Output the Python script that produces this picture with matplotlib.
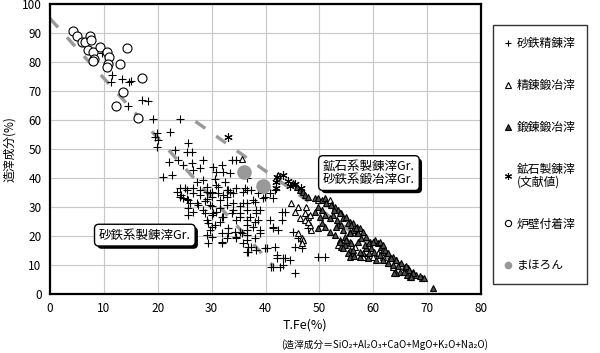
import matplotlib
matplotlib.use('Agg')
import matplotlib.pyplot as plt
import matplotlib.patheffects as pe
from matplotlib.lines import Line2D

plt.rcParams['font.family'] = ['Noto Sans CJK JP', 'DejaVu Sans']

# 砂鉄精錬滓 (+)
sand_pts = [
    (9.6, 83), (11.5, 75.5), (13.4, 74.2), (14.7, 73.2), (15.0, 73.4), (11.3, 73.2), (17.0, 66.9),
    (18.2, 66.5), (14.5, 64.8), (19.2, 60.3), (24.1, 60.3),
    (19.8, 55.4), (19.5, 54.3), (20.1, 53.1), (22.3, 55.9), (19.8, 50.8), (23.2, 49.7), (25.7, 51.9),
    (25.4, 49.1), (26.3, 49.1), (22.0, 45.6), (23.8, 46.2), (24.7, 44.5), (26.3, 45.1), (28.4, 46.2),
    (30.3, 43.9), (31.9, 44.5), (30.9, 42.2), (32.2, 42.2), (33.4, 41.6), (33.7, 46.2), (34.6, 46.2),
    (21.0, 40.5), (22.6, 41.0), (24.1, 36.4), (25.4, 35.9), (26.6, 36.4), (24.7, 33.0), (25.7, 32.4),
    (27.2, 38.7), (27.8, 35.9), (28.4, 39.3), (29.1, 37.0), (29.7, 34.7), (30.9, 37.6), (32.5, 38.7),
    (33.1, 35.9), (34.0, 34.7), (32.8, 33.6), (31.5, 32.4), (29.7, 30.7), (28.4, 29.0), (30.3, 27.8),
    (31.9, 26.7), (29.1, 25.5), (30.0, 23.2), (29.1, 20.3), (31.9, 18.0), (33.1, 20.9), (34.6, 19.8),
    (35.2, 21.5), (36.5, 18.6), (37.4, 16.3), (36.8, 14.6), (38.3, 15.2), (40.2, 15.8), (38.3, 27.8),
    (38.7, 25.5), (36.5, 35.9), (37.7, 32.4), (39.0, 29.0), (39.9, 33.6), (41.4, 33.0), (41.7, 35.9),
    (40.8, 25.5), (41.4, 23.2), (42.1, 13.5), (43.3, 12.3), (41.1, 9.4), (42.7, 9.4), (25.7, 27.2),
    (25.7, 29.5), (27.2, 31.3), (34.0, 29.0), (35.2, 27.8), (35.9, 31.3), (34.6, 25.5), (37.7, 23.2),
    (39.0, 20.9), (36.5, 23.8),
    (26.6, 42.7), (27.8, 43.3), (30.6, 39.8), (31.2, 37.0), (34.6, 36.4), (24.1, 33.5), (25.4, 32.9),
    (29.1, 32.9), (30.0, 35.2), (32.8, 35.8), (25.0, 36.4),
    (23.5, 35.3), (24.4, 34.2), (26.6, 34.8), (27.8, 34.2), (29.1, 35.3), (30.0, 33.6), (31.2, 34.8),
    (32.2, 34.2), (33.4, 35.3), (35.9, 35.3), (26.0, 31.3), (27.5, 30.7), (28.8, 31.9), (30.0, 30.2),
    (31.5, 29.6), (32.8, 30.7), (34.0, 31.3), (35.3, 30.2), (36.5, 31.3), (26.6, 28.4), (28.8, 27.9),
    (30.0, 27.3), (30.9, 28.4), (32.2, 26.7), (33.7, 27.9), (35.3, 26.7), (36.5, 25.6), (29.4, 24.4),
    (30.6, 23.8), (31.5, 25.0), (33.1, 22.7), (34.3, 21.5), (35.6, 21.0), (36.5, 22.1), (29.7, 22.1),
    (30.0, 19.8), (31.9, 21.0), (32.8, 19.2), (34.6, 19.2), (35.9, 17.5), (36.5, 14.6), (29.4, 17.5),
    (31.9, 17.5),
    (36.5, 39.9), (36.2, 36.4), (37.4, 35.9), (38.7, 34.7), (39.6, 33.0), (38.0, 31.8), (36.5, 29.0),
    (37.1, 26.7), (38.3, 29.0), (38.0, 25.0), (39.0, 22.1), (38.0, 19.2), (36.8, 16.3), (39.9, 15.7),
    (36.5, 20.3), (41.7, 16.3), (43.0, 28.4), (43.6, 28.4), (43.0, 25.5), (41.4, 22.6), (42.4, 22.1),
    (45.1, 21.5), (46.1, 19.2), (45.5, 16.3), (46.7, 15.7), (47.9, 22.6), (49.8, 12.9), (51.0, 12.9),
    (42.1, 12.3), (43.6, 12.3), (44.5, 11.7), (43.3, 10.0), (45.5, 7.2), (41.4, 9.4), (40.8, 34.7),
]

# 精錬鍛冶滓 (open triangle)
refine_pts = [
    (35.6, 46.4), (42.4, 41.0), (44.8, 31.3), (46.1, 30.1), (45.5, 28.4), (47.3, 27.8), (47.9, 26.7),
    (46.4, 26.1), (47.3, 25.5), (46.1, 20.9), (46.7, 19.2), (47.0, 18.6), (48.5, 22.1), (48.2, 23.8),
    (49.8, 32.4), (47.6, 30.1), (48.2, 27.2), (47.9, 25.0), (46.7, 17.5), (55.7, 18.0), (56.6, 16.3),
    (58.7, 12.9), (60.0, 12.9), (60.9, 14.0), (61.8, 12.9), (62.8, 10.6), (63.7, 9.4), (51.9, 32.4),
    (58.1, 12.9), (53.4, 16.9),
]

# 鍛錬鍛冶滓 (filled triangle)
forge_pts = [
    (45.1, 38.2), (45.8, 37.0), (46.4, 35.9), (47.0, 35.3), (47.3, 34.1), (47.9, 33.6), (49.2, 33.0),
    (49.8, 33.0), (50.4, 32.4), (51.0, 33.0), (51.3, 31.3), (52.3, 30.7), (52.9, 30.1), (53.5, 29.0),
    (54.1, 27.8), (54.4, 26.1), (55.0, 26.7), (55.7, 25.0), (56.3, 24.4), (56.9, 23.2), (57.5, 22.7),
    (58.1, 21.5), (56.9, 20.9), (55.7, 21.5), (54.4, 22.1), (53.5, 23.8), (53.2, 25.5), (52.6, 27.2),
    (51.9, 26.1), (51.0, 27.2), (50.4, 29.0), (49.8, 30.1), (49.2, 28.4), (50.1, 26.7), (50.4, 24.4),
    (49.8, 22.6), (51.0, 23.2), (51.9, 21.5), (52.9, 20.3), (53.8, 18.6), (54.7, 16.9), (54.1, 16.3),
    (55.7, 15.2), (56.3, 14.0), (57.5, 12.9), (58.1, 14.0), (58.7, 15.8), (59.4, 18.0), (60.3, 18.6),
    (60.9, 17.5), (61.5, 16.3), (61.8, 15.2), (62.5, 14.0), (63.1, 12.3), (63.7, 12.9), (64.3, 11.7),
    (65.2, 10.6), (65.9, 9.4), (66.5, 8.9), (67.4, 7.7), (68.0, 6.6), (69.0, 5.4), (64.9, 7.7),
    (64.3, 7.1), (66.2, 6.6), (66.8, 6.0), (71.1, 2.0),
    (52.2, 30.7), (52.8, 29.0), (53.8, 27.9), (55.3, 24.4), (55.9, 23.8), (56.2, 22.1), (56.8, 22.7),
    (57.1, 21.0), (55.6, 21.0), (54.7, 19.8), (53.8, 18.1), (54.4, 15.8), (55.3, 14.1), (55.6, 12.9),
    (56.5, 13.1), (56.2, 15.2), (57.5, 14.6), (59.0, 12.3), (58.4, 16.9), (59.3, 17.5), (59.9, 18.1),
    (61.2, 18.1), (61.8, 16.9), (62.1, 15.2), (62.7, 14.1), (63.3, 12.3), (64.2, 11.8), (63.6, 10.0),
    (64.6, 9.5), (66.1, 9.5), (65.8, 7.7), (66.7, 8.3), (67.3, 7.2), (68.6, 6.2), (69.5, 5.4),
    (67.0, 6.0), (63.9, 7.2), (54.1, 23.8), (53.1, 23.2), (55.0, 18.7), (55.9, 17.5), (57.1, 18.1),
    (57.8, 19.2), (58.7, 19.8), (59.6, 15.8), (60.2, 14.6), (61.2, 13.5), (61.8, 11.8), (62.7, 10.6),
    (60.5, 11.8), (59.3, 14.1),
]

# 鉱石製錬滓(文献値)
ore_pts = [(33.1, 54.0), (42.2, 40.5), (42.0, 38.7), (41.9, 36.7), (44.2, 39.0), (44.6, 37.3),
           (46.5, 36.4), (43.2, 41.2), (45.5, 38.0)]

# 炉壁付着滓 (open circle)
wall_pts = [
    (4.3, 90.7), (5.1, 89.0), (5.9, 87.0), (6.5, 87.0), (7.4, 89.0), (7.7, 87.6), (7.1, 84.0),
    (8.0, 83.5), (9.2, 85.3), (10.6, 83.3), (10.9, 81.8), (8.2, 80.9), (7.9, 80.3), (10.8, 79.3),
    (10.5, 78.4), (14.2, 84.7), (13.0, 79.2), (17.0, 74.6), (13.6, 69.6), (12.2, 65.0), (16.4, 60.8),
]

# まほろん
mahoron_pts = [(36.0, 42.2), (39.5, 37.2)]

# 破線 (グループ境界)
line1_x = [0, 41.5]
line1_y = [95, 9.5]
line2_x = [27, 68.6]
line2_y = [59.5, 4.8]


def xs(p):
    return [a for a, b in p]


def ys(p):
    return [b for a, b in p]


fig = plt.figure(figsize=(6, 3.53), dpi=100)
ax = fig.add_axes([50 / 600, 59 / 353, 431 / 600, 290 / 353])

ax.set_xlim(0, 80)
ax.set_ylim(0, 100)
ax.set_xticks(range(0, 81, 10))
ax.set_yticks(range(0, 101, 10))
ax.grid(True, color='#c8c8c8', linewidth=0.8)
ax.set_axisbelow(True)
ax.tick_params(length=0, labelsize=8.5, pad=6)
for s in ax.spines.values():
    s.set_linewidth(1.6)

for lx, ly in [(line1_x, line1_y), (line2_x, line2_y)]:
    ln, = ax.plot(lx, ly, color='#999999', linewidth=2.4, zorder=2)
    ln.set_dashes([3.6, 4.0])

ax.plot(xs(sand_pts), ys(sand_pts), '+', color='black', ms=6, mew=0.8, zorder=3)
ax.plot(xs(refine_pts), ys(refine_pts), '^', mfc='white', mec='black', ms=5, mew=0.8, zorder=3)
ax.plot(xs(forge_pts), ys(forge_pts), '^', mfc='#505050', mec='black', ms=5, mew=0.8, zorder=3)
ax.plot(xs(ore_pts), ys(ore_pts), marker=(6, 2, 0), ls='none', color='black', ms=6, mew=0.8, zorder=3)
ax.plot(xs(wall_pts), ys(wall_pts), 'o', mfc='white', mec='black', ms=6.5, mew=0.8, zorder=3)
ax.plot(xs(mahoron_pts), ys(mahoron_pts), 'o', color='#999999', ms=9.5, zorder=4)

box = dict(boxstyle='round,pad=0.35', fc='white', ec='black', lw=1)
t1 = ax.text(59.2, 41.7, '鉱石系製錬滓Gr.\n砂鉄系鍛冶滓Gr.', fontsize=9, ha='center', va='center',
             linespacing=1.0, bbox=box, zorder=5)
t2 = ax.text(17.6, 20.3, '砂鉄系製錬滓Gr.', fontsize=9, ha='center', va='center', bbox=box, zorder=5)
for t in (t1, t2):
    t.get_bbox_patch().set_path_effects([
        pe.SimplePatchShadow(offset=(2, -2), shadow_rgbFace='black', alpha=1), pe.Normal()])

ax.set_ylabel('造滓成分(%)', fontsize=8.5, labelpad=4)
fig.text(305 / 600, 1 - 325 / 353, 'T.Fe(%)', fontsize=9, ha='center', va='center')
fig.text(281 / 600, 1 - 345 / 353, '(造滓成分＝SiO₂+Al₂O₃+CaO+MgO+K₂O+Na₂O)', fontsize=7,
         ha='left', va='center')

handles = [
    Line2D([], [], ls='none', marker='+', color='black', ms=5, mew=0.8),
    Line2D([], [], ls='none', marker='^', mfc='white', mec='black', ms=4, mew=0.8),
    Line2D([], [], ls='none', marker='^', mfc='#3a3a3a', mec='black', ms=4, mew=0.8),
    Line2D([], [], ls='none', marker=(6, 2, 0), color='black', ms=5, mew=0.8),
    Line2D([], [], ls='none', marker='o', mfc='white', mec='black', ms=4.5, mew=0.8),
    Line2D([], [], ls='none', marker='o', color='#999999', ms=4.5),
]
labels = ['砂鉄精錬滓', '精錬鍛冶滓', '鍛錬鍛冶滓', '鉱石製錬滓\n(文献値)', '炉壁付着滓', 'まほろん']
leg = fig.legend(handles, labels, loc='upper left', bbox_to_anchor=(493 / 600, 1 - 25 / 353),
                 fontsize=8.5, frameon=True, fancybox=False, edgecolor='black', labelspacing=2.45,
                 handlelength=0.6, handletextpad=0.4, borderpad=1.0, borderaxespad=0)
leg.get_frame().set_linewidth(1.0)
for txt in leg.get_texts():
    txt.set_linespacing(1.0)

fig.savefig('out.png', dpi=100)
